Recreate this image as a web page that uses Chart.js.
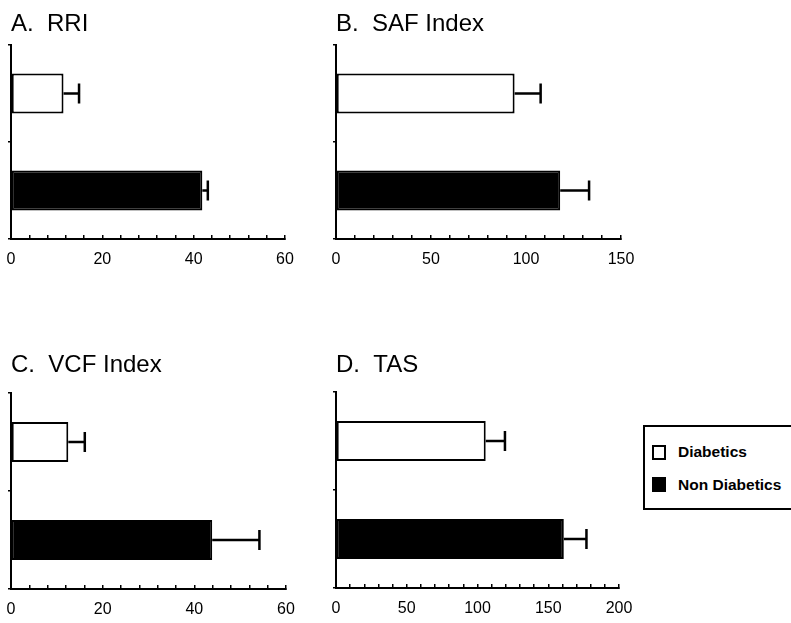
<!DOCTYPE html>
<html><head><meta charset="utf-8">
<script src="https://cdn.jsdelivr.net/npm/chart.js@4.4.0/dist/chart.umd.min.js"></script>
<style>
html,body{margin:0;padding:0;background:#fff;overflow:hidden;width:791px;height:623px;position:relative}
canvas{position:absolute}
#legend{position:absolute;left:643px;top:425px;width:170px;height:85px;border:2px solid #000;box-sizing:border-box;background:#fff}
.item{position:absolute;left:7px;height:20px;display:flex;align-items:center;font-family:'Liberation Sans',Arial,sans-serif;font-weight:bold;font-size:15.5px;color:#000;white-space:nowrap}
.sw{width:14px;height:15px;box-sizing:border-box;border:2px solid #000;margin-right:12px}
</style></head><body>
<canvas id="cA" width="300" height="280" style="left:0;top:0"></canvas>
<canvas id="cB" width="320" height="280" style="left:320px;top:0"></canvas>
<canvas id="cC" width="300" height="303" style="left:0;top:320px"></canvas>
<canvas id="cD" width="320" height="303" style="left:320px;top:320px"></canvas>
<div id="legend"></div>
<script>
// ---- data ----
const categories = ['Diabetics', 'Non Diabetics'];
const barColors = ['#ffffff', '#000000'];
const panelTitles = ['A.  RRI', 'B.  SAF Index', 'C.  VCF Index', 'D.  TAS'];
const rriMean = [11.5, 41.9];
const rriSem = [3.4, 1.2];
const safMean = [94, 118];
const safSem = [13.7, 15.2];
const vcfMean = [12.5, 43.9];
const vcfSem = [3.6, 10.3];
const tasMean = [105.8, 161];
const tasSem = [13.6, 16];
const axisMax = [60, 150, 60, 200];
const minorStep = [4, 10, 4, 10];
const labelStep = [20, 50, 20, 50];

const errorBars = {
  id: 'errorBars',
  afterDatasetsDraw(chart) {
    const ctx = chart.ctx;
    const xs = chart.scales.x;
    chart.data.datasets.forEach((ds, di) => {
      const meta = chart.getDatasetMeta(di);
      meta.data.forEach((bar, i) => {
        const v = ds.data[i], e = ds.errors[i];
        const x0 = xs.getPixelForValue(v);
        const x1 = xs.getPixelForValue(v + e);
        const y = bar.y;
        const h = bar.height * 0.5;
        ctx.save();
        ctx.strokeStyle = '#000';
        ctx.lineWidth = 2.5;
        ctx.beginPath();
        ctx.moveTo(x0, y); ctx.lineTo(x1, y);
        ctx.moveTo(x1, y - h / 2); ctx.lineTo(x1, y + h / 2);
        ctx.stroke();
        ctx.restore();
      });
    });
  }
};

function makePanel(id, idx, means, sems, pad, titlePad) {
  const lblStep = labelStep[idx];
  return new Chart(document.getElementById(id), {
    type: 'bar',
    data: {
      labels: categories,
      datasets: [{
        data: means,
        errors: sems,
        backgroundColor: barColors,
        borderColor: '#000',
        borderWidth: 2,
        borderSkipped: false,
        categoryPercentage: 1,
        barPercentage: 0.41
      }]
    },
    options: {
      indexAxis: 'y',
      responsive: false,
      animation: false,
      devicePixelRatio: 1,
      layout: { padding: pad },
      plugins: {
        legend: { display: false },
        tooltip: { enabled: false },
        title: {
          display: true,
          text: panelTitles[idx],
          align: 'start',
          fullSize: false,
          color: '#000',
          font: { family: "'Liberation Sans', Arial, sans-serif", size: 24, weight: 'normal' },
          padding: titlePad
        }
      },
      scales: {
        x: {
          type: 'linear',
          min: 0,
          max: axisMax[idx],
          afterFit(s) { s.height = 30; },
          grid: { display: true, drawOnChartArea: false, drawTicks: true, tickLength: -4, color: '#000', lineWidth: 1.5 },
          border: { display: true, color: '#000', width: 2 },
          ticks: {
            stepSize: minorStep[idx],
            autoSkip: false,
            maxRotation: 0,
            padding: 0,
            color: '#000',
            font: { family: "'Liberation Sans', Arial, sans-serif", size: 16, lineHeight: '50px' },
            callback: (v) => (v % lblStep === 0 ? String(v) : '')
          }
        },
        y: {
          type: 'category',
          offset: true,
          afterFit(s) { s.width = 4; },
          grid: { display: true, offset: true, drawOnChartArea: false, drawTicks: true, tickLength: 3, color: '#000', lineWidth: 1.5 },
          border: { display: true, color: '#000', width: 2 },
          ticks: { display: false }
        }
      }
    },
    plugins: [errorBars]
  });
}

makePanel('cA', 0, rriMean, rriSem, { left: 7, right: 15, top: 0, bottom: 11 }, { top: 9.6, bottom: 6.6 });
makePanel('cB', 1, safMean, safSem, { left: 12, right: 19, top: 0, bottom: 11 }, { top: 9.6, bottom: 6.6 });
makePanel('cC', 2, vcfMean, vcfSem, { left: 7, right: 14, top: 0, bottom: 4 }, { top: 30.7, bottom: 13.5 });
makePanel('cD', 3, tasMean, tasSem, { left: 12, right: 21, top: 0, bottom: 5 }, { top: 30.7, bottom: 12.5 });

// HTML legend built from the category list
const legend = document.getElementById('legend');
const rowTops = [15, 47.5];
categories.forEach((c, i) => {
  const row = document.createElement('div');
  row.className = 'item';
  row.style.top = rowTops[i] + 'px';
  const sw = document.createElement('span');
  sw.className = 'sw';
  sw.style.background = barColors[i];
  row.appendChild(sw);
  row.appendChild(document.createTextNode(c));
  legend.appendChild(row);
});
</script>
</body></html>
